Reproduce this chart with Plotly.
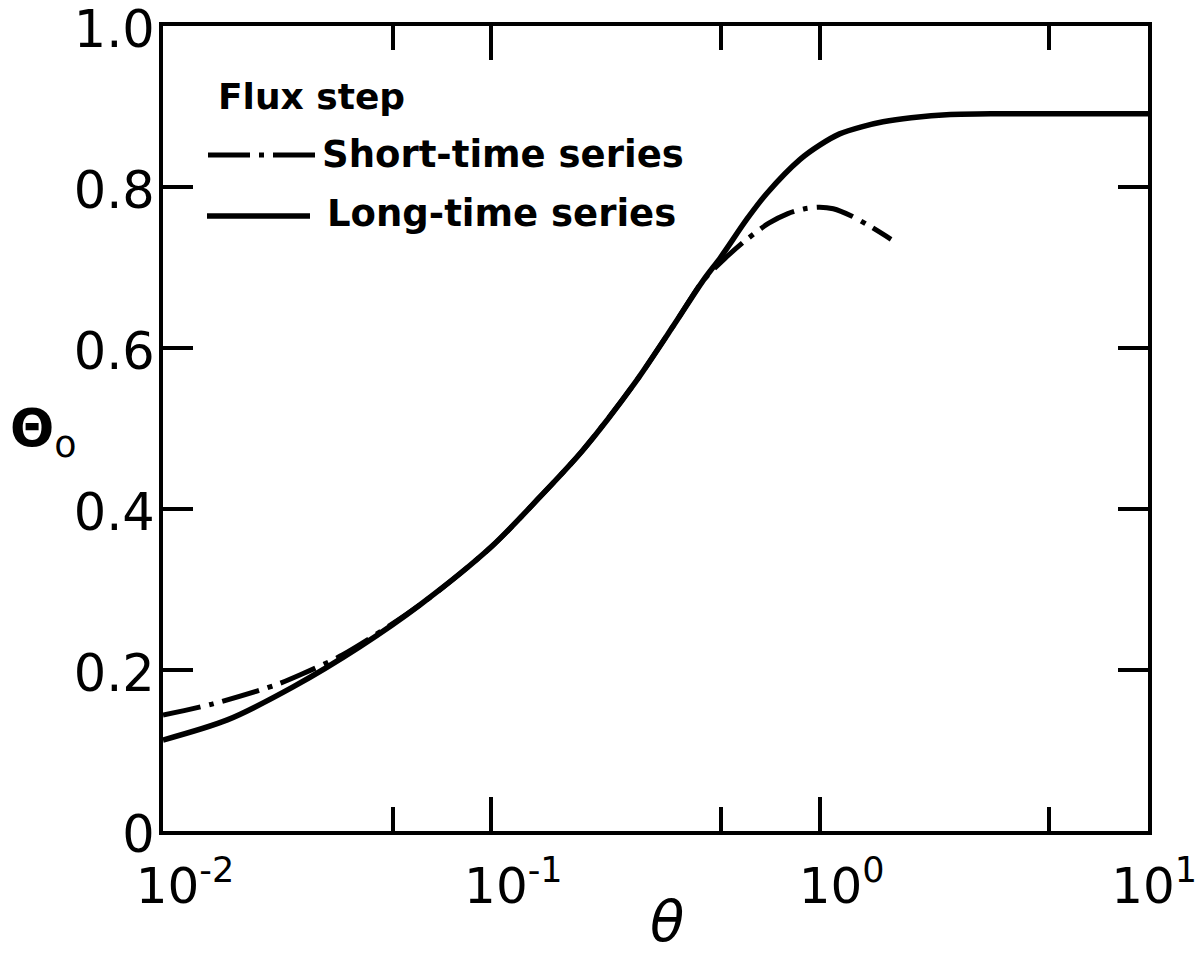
import plotly.graph_objects as go

# Dimensionless time (theta) and surface temperature (Theta_o) for a flux step
theta_long = [0.01, 0.0157, 0.0249, 0.0398, 0.0607, 0.1, 0.1406, 0.19, 0.274,
              0.363, 0.442, 0.5, 0.6, 0.69, 0.87, 1.0, 1.15, 1.35, 1.56, 1.9, 2.5, 3.5, 10.0]
Theta_long = [0.113, 0.138, 0.179, 0.229, 0.281, 0.353, 0.415, 0.473, 0.557,
              0.631, 0.684, 0.713, 0.760, 0.792, 0.834, 0.852, 0.866, 0.875, 0.881, 0.886, 0.890, 0.891, 0.891]

theta_short = [0.01, 0.0142, 0.0219, 0.0262, 0.0353, 0.0607, 0.1, 0.1406, 0.19,
               0.274, 0.363, 0.442, 0.52, 0.6, 0.7, 0.8, 0.9, 1.0, 1.1, 1.25, 1.4, 1.65]
Theta_short = [0.144, 0.158, 0.181, 0.194, 0.219, 0.281, 0.353, 0.415, 0.473,
               0.557, 0.631, 0.684, 0.713, 0.735, 0.755, 0.767, 0.773, 0.775, 0.773, 0.764, 0.753, 0.735]

x_major = [0.01, 0.1, 1, 10]
x_major_text = ["10<sup>-2</sup>", "10<sup>-1</sup>", "10<sup>0</sup>", "10<sup>1</sup>&nbsp;&nbsp;"]
x_minor = [0.05, 0.5, 5]
y_ticks = [0, 0.2, 0.4, 0.6, 0.8, 1.0]
y_tick_text = ["0", "0.2", "0.4", "0.6", "0.8", "1.0"]

legend_title = "Flux step"
name_short = "Short-time series"
name_long = "Long-time series"

DASHDOT = "38px,9px,5px,9px"
FONT = "DejaVu Sans"

fig = go.Figure()
fig.add_trace(go.Scatter(x=theta_short, y=Theta_short, mode="lines", name=name_short,
                         line=dict(color="black", width=5, dash=DASHDOT, shape="spline", smoothing=0.8)))
fig.add_trace(go.Scatter(x=theta_long, y=Theta_long, mode="lines", name=name_long,
                         line=dict(color="black", width=5.5, shape="spline", smoothing=0.8)))

W, H = 1204, 955
L, R, T, B = 163, 56, 26, 124
pw, ph = W - L - R, H - T - B


def px(xp):
    return (xp - L) / pw


def py(yp):
    return (H - B - yp) / ph


fig.update_layout(
    width=W, height=H,
    margin=dict(l=L, r=R, t=T, b=B, pad=0, autoexpand=False),
    paper_bgcolor="white", plot_bgcolor="white",
    showlegend=False,
    font=dict(family=FONT, color="black"),
)

fig.update_xaxes(
    type="log", range=[-2, 1], automargin=False,
    tickmode="array", tickvals=x_major, ticktext=x_major_text,
    ticks="inside", ticklen=34, tickwidth=4, tickcolor="black",
    minor=dict(tickmode="array", tickvals=x_minor, ticks="inside", ticklen=24,
               tickwidth=4, tickcolor="black", showgrid=False),
    showline=True, linewidth=4, linecolor="black", mirror="ticks",
    showgrid=False, zeroline=False,
    tickfont=dict(family=FONT, size=50, color="black"),
    ticklabelstandoff=8, ticklabelshift=22, ticklabeloverflow="allow",
)
fig.update_yaxes(
    range=[0, 1.0], automargin=False,
    tickmode="array", tickvals=y_ticks, ticktext=y_tick_text,
    ticks="inside", ticklen=30, tickwidth=4, tickcolor="black",
    showline=True, linewidth=4, linecolor="black", mirror="ticks",
    showgrid=False, zeroline=False,
    tickfont=dict(family=FONT, size=51, color="black"),
    ticklabelstandoff=-6, ticklabelshift=3, ticklabeloverflow="allow",
)

# Axis titles
fig.add_annotation(text="<b>Θ</b><sub>o</sub>", xref="paper", yref="paper",
                   x=px(8), y=py(432), xanchor="left", yanchor="middle",
                   showarrow=False, font=dict(family=FONT, size=52, color="black"))
fig.add_annotation(text="<i>θ</i>", xref="paper", yref="paper",
                   x=px(667), y=py(921), xanchor="center", yanchor="middle",
                   showarrow=False, font=dict(family=FONT, size=56, color="black"))

# Legend block
legend_font = dict(family=FONT, size=36, color="black")
fig.add_annotation(text=f"<b>{legend_title}</b>", xref="paper", yref="paper",
                   x=px(216), y=py(97), xanchor="left", yanchor="middle",
                   showarrow=False, font=legend_font)
fig.add_annotation(text=f"<b>{name_short}</b>", xref="paper", yref="paper",
                   x=px(320), y=py(155), xanchor="left", yanchor="middle",
                   showarrow=False, font=dict(family=FONT, size=37, color="black"))
fig.add_annotation(text=f"<b>{name_long}</b>", xref="paper", yref="paper",
                   x=px(325), y=py(214), xanchor="left", yanchor="middle",
                   showarrow=False, font=dict(family=FONT, size=37, color="black"))
fig.add_shape(type="line", xref="paper", yref="paper",
              x0=px(208), x1=px(315), y0=py(155), y1=py(155),
              line=dict(color="black", width=5, dash="42px,9px,5px,9px"))
fig.add_shape(type="line", xref="paper", yref="paper",
              x0=px(207), x1=px(310), y0=py(216), y1=py(216),
              line=dict(color="black", width=5.5))

fig.write_html("out.html")
